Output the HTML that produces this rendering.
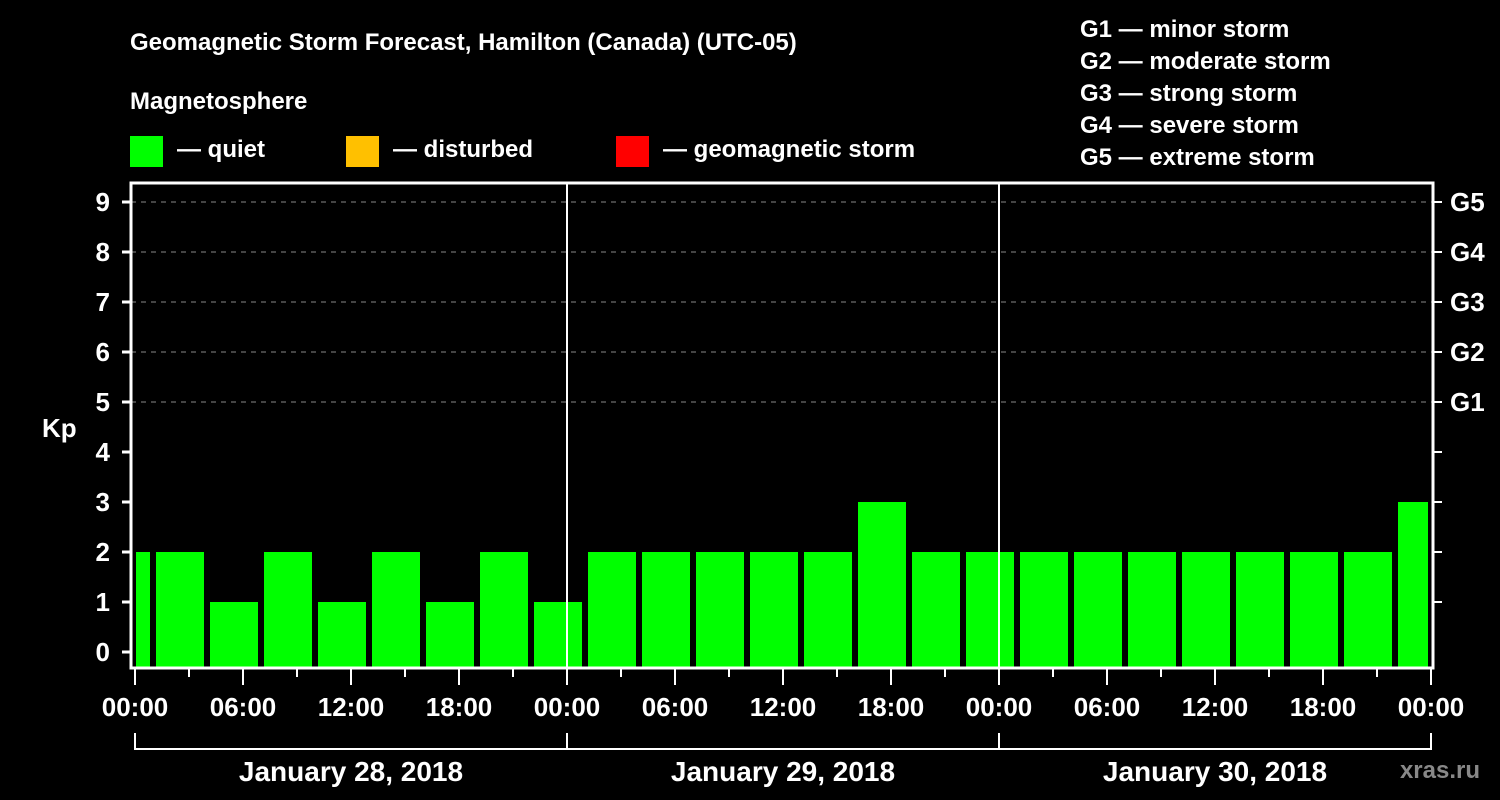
<!DOCTYPE html>
<html><head><meta charset="utf-8"><style>
html,body{margin:0;background:#000;}
svg{display:block;font-family:"Liberation Sans",sans-serif;font-weight:bold;}
</style></head><body>
<svg id="c" width="1500" height="800">
<text x="130" y="50" fill="#fff" font-size="24">Geomagnetic Storm Forecast, Hamilton (Canada) (UTC-05)</text>
<text x="130" y="109" fill="#fff" font-size="24">Magnetosphere</text>
<g><rect x="130" y="136" width="33" height="31" fill="#00ff00"/><text x="177" y="157" fill="#fff" font-size="24">— quiet</text></g>
<g><rect x="346" y="136" width="33" height="31" fill="#ffc000"/><text x="393" y="157" fill="#fff" font-size="24">— disturbed</text></g>
<g><rect x="616" y="136" width="33" height="31" fill="#ff0000"/><text x="663" y="157" fill="#fff" font-size="24">— geomagnetic storm</text></g>
<g fill="#fff" font-size="24">
<text x="1080" y="37">G1 — minor storm</text>
<text x="1080" y="69">G2 — moderate storm</text>
<text x="1080" y="101">G3 — strong storm</text>
<text x="1080" y="133">G4 — severe storm</text>
<text x="1080" y="165">G5 — extreme storm</text>
</g>
<text x="42" y="437" fill="#fff" font-size="26">Kp</text>
<text x="1480" y="778" fill="#888" font-size="24" text-anchor="end">xras.ru</text>
<g id="plot"></g>
</svg>
<script>
const kpValues = [2, 2,1,2,1,2,1,2,1, 2,2,2,2,2,3,2,2, 2,2,2,2,2,2,2,3];
const binStartHours = [-2,1,4,7,10,13,16,19,22,25,28,31,34,37,40,43,46,49,52,55,58,61,64,67,70];
const dayLabels = ["January 28, 2018","January 29, 2018","January 30, 2018"];
const timeTickLabels = ["00:00","06:00","12:00","18:00"];
const gLabels = ["G1","G2","G3","G4","G5"];

const NS="http://www.w3.org/2000/svg";
const g=document.getElementById('plot');
const X0=135, PXH=18, L=131, R=1433, T=183, B=668;
const x=h=>X0+h*PXH;
const y=v=>652-v*50;
function mk(t,a){const e=document.createElementNS(NS,t);for(const k in a)e.setAttribute(k,a[k]);g.appendChild(e);return e;}
// grid
for(let v=5;v<=9;v++){
 const e=mk('line',{x1:L,x2:R,y1:y(v),y2:y(v),stroke:'#888','stroke-width':1,'stroke-dasharray':'5,5'});
 
 
}
// bars
kpValues.forEach((v,i)=>{
 const s=Math.max(x(binStartHours[i])+3,136), en=Math.min(x(binStartHours[i]+3)-3,1428);
 const e=mk('rect',{x:s,y:y(v),width:en-s,height:B-y(v),fill:'#00ff00'});
 
 
});
// day separators
[1,2].forEach(d=>{
 const e=mk('line',{x1:x(24*d),x2:x(24*d),y1:T,y2:B,stroke:'#fff','stroke-width':2});
 
 
});
// frame
const fr=mk('rect',{x:L,y:T,width:R-L,height:B-T,fill:'none',stroke:'#fff','stroke-width':3});


// y ticks
for(let v=0;v<=9;v++){
 mk('line',{x1:122,x2:L,y1:y(v),y2:y(v),stroke:'#fff','stroke-width':3});
 const t=mk('text',{x:110,y:y(v)+9,fill:'#fff','font-size':26,'text-anchor':'end'});t.textContent=v;
 
 
 if(v>=1) mk('line',{x1:R,x2:1442,y1:y(v),y2:y(v),stroke:'#fff','stroke-width':2});
 if(v>=5){const r=mk('text',{x:1450,y:y(v)+9,fill:'#fff','font-size':26});r.textContent=gLabels[v-5];
 
 }
}
// x ticks
for(let h=0;h<=72;h+=3){
 const major=h%6===0;
 mk('line',{x1:x(h),x2:x(h),y1:B,y2:major?685:677,stroke:'#fff','stroke-width':2});
 if(major){const t=mk('text',{x:x(h),y:716,fill:'#fff','font-size':26,'text-anchor':'middle'});
 t.textContent=timeTickLabels[(h%24)/6];
 
 }
}
// date bracket
mk('line',{x1:x(0),x2:x(72),y1:749,y2:749,stroke:'#fff','stroke-width':2});
for(let d=0;d<=3;d++) mk('line',{x1:x(24*d),x2:x(24*d),y1:733,y2:750,stroke:'#fff','stroke-width':2});
dayLabels.forEach((s,d)=>{
 const t=mk('text',{x:x(24*d+12),y:781,fill:'#fff','font-size':28,'text-anchor':'middle'});t.textContent=s;
 
 
});
</script>
</body></html>
